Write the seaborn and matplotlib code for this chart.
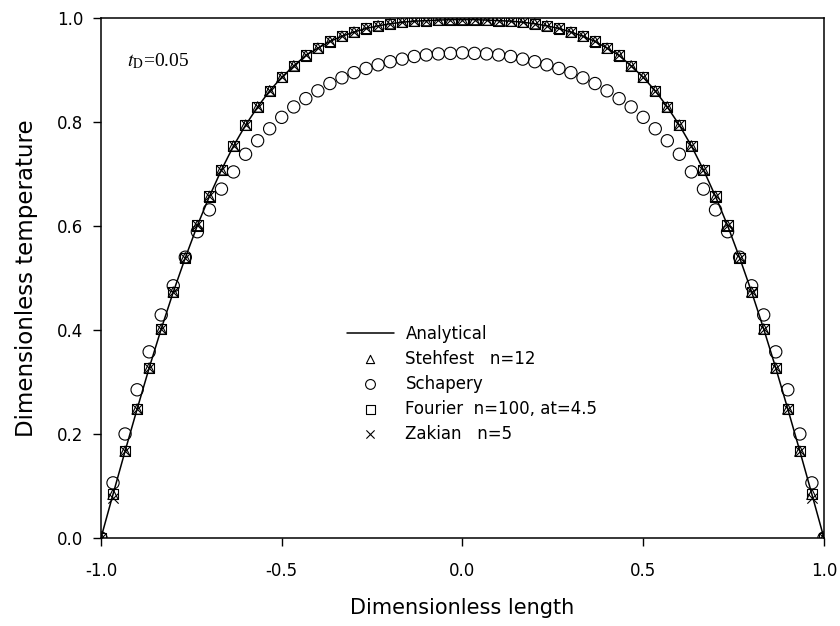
import matplotlib
matplotlib.use('Agg')
import matplotlib.pyplot as plt
import numpy as np
import seaborn as sns

# Dimensionless length grid (61 nodes, step 1/30)
x_pos = np.linspace(-1.0, 1.0, 61)

# Values (t_D = 0.05)
analytical = [0.0, 0.084, 0.167, 0.248, 0.327, 0.402, 0.473, 0.539, 0.601, 0.657,
              0.708, 0.754, 0.794, 0.829, 0.860, 0.886, 0.908, 0.928, 0.942, 0.955,
              0.965, 0.973, 0.980, 0.985, 0.989, 0.992, 0.994, 0.995, 0.996, 0.997,
              0.997,
              0.997, 0.996, 0.995, 0.994, 0.992, 0.989, 0.985, 0.980, 0.973, 0.965,
              0.955, 0.942, 0.928, 0.908, 0.886, 0.860, 0.829, 0.794, 0.754, 0.708,
              0.657, 0.601, 0.539, 0.473, 0.402, 0.327, 0.248, 0.167, 0.084, 0.0]
stehfest = [0.0, 0.084, 0.167, 0.248, 0.327, 0.402, 0.473, 0.539, 0.601, 0.657,
            0.708, 0.754, 0.794, 0.829, 0.860, 0.886, 0.908, 0.928, 0.942, 0.955,
            0.965, 0.973, 0.980, 0.985, 0.989, 0.992, 0.994, 0.995, 0.996, 0.997,
            0.997,
            0.997, 0.996, 0.995, 0.994, 0.992, 0.989, 0.985, 0.980, 0.973, 0.965,
            0.955, 0.942, 0.928, 0.908, 0.886, 0.860, 0.829, 0.794, 0.754, 0.708,
            0.657, 0.601, 0.539, 0.473, 0.402, 0.327, 0.248, 0.167, 0.084, 0.0]
schapery = [0.0, 0.106, 0.200, 0.285, 0.358, 0.429, 0.485, 0.540, 0.589, 0.631,
            0.671, 0.704, 0.738, 0.764, 0.787, 0.809, 0.829, 0.845, 0.860, 0.874,
            0.885, 0.895, 0.903, 0.910, 0.916, 0.921, 0.926, 0.929, 0.931, 0.932,
            0.933,
            0.932, 0.931, 0.929, 0.926, 0.921, 0.916, 0.910, 0.903, 0.895, 0.885,
            0.874, 0.860, 0.845, 0.829, 0.809, 0.787, 0.764, 0.738, 0.704, 0.671,
            0.631, 0.589, 0.540, 0.485, 0.429, 0.358, 0.285, 0.200, 0.106, 0.0]
fourier = [0.0, 0.084, 0.167, 0.248, 0.327, 0.402, 0.473, 0.539, 0.601, 0.657,
           0.708, 0.754, 0.794, 0.829, 0.860, 0.886, 0.908, 0.928, 0.942, 0.955,
           0.965, 0.973, 0.980, 0.985, 0.989, 0.992, 0.994, 0.995, 0.996, 0.997,
           0.997,
           0.997, 0.996, 0.995, 0.994, 0.992, 0.989, 0.985, 0.980, 0.973, 0.965,
           0.955, 0.942, 0.928, 0.908, 0.886, 0.860, 0.829, 0.794, 0.754, 0.708,
           0.657, 0.601, 0.539, 0.473, 0.402, 0.327, 0.248, 0.167, 0.084, 0.0]
zakian = [0.0, 0.076, 0.167, 0.248, 0.327, 0.402, 0.473, 0.539, 0.601, 0.657,
          0.708, 0.754, 0.794, 0.829, 0.860, 0.886, 0.908, 0.928, 0.942, 0.955,
          0.965, 0.973, 0.980, 0.985, 0.989, 0.992, 0.994, 0.995, 0.996, 0.997,
          0.997,
          0.997, 0.996, 0.995, 0.994, 0.992, 0.989, 0.985, 0.980, 0.973, 0.965,
          0.955, 0.942, 0.928, 0.908, 0.886, 0.860, 0.829, 0.794, 0.754, 0.708,
          0.657, 0.601, 0.539, 0.473, 0.402, 0.327, 0.248, 0.167, 0.076, 0.0]

x_ticks = [-1.0, -0.5, 0.0, 0.5, 1.0]
y_ticks = [0.0, 0.2, 0.4, 0.6, 0.8, 1.0]

sns.set_style('ticks')
plt.rcParams['font.family'] = ['DejaVu Sans']
plt.rcParams['mathtext.fontset'] = 'stix'
plt.rcParams['text.color'] = 'black'
plt.rcParams['axes.labelcolor'] = 'black'

fig = plt.figure(figsize=(8.4, 6.26), dpi=100)
ax = fig.add_axes([0.1202, 0.1406, 0.8607, 0.8306])

sns.scatterplot(x=x_pos, y=schapery, marker='o', s=78, facecolor='none',
                edgecolor='black', linewidth=0.8, ax=ax, label='Schapery', zorder=3)
sns.scatterplot(x=x_pos, y=stehfest, marker='^', s=55, facecolor='none',
                edgecolor='black', linewidth=0.8, ax=ax, label='Stehfest   n=12', zorder=3)
sns.scatterplot(x=x_pos, y=fourier, marker='s', s=55, facecolor='none',
                edgecolor='black', linewidth=0.8, ax=ax, label='Fourier  n=100, at=4.5', zorder=3)
sns.scatterplot(x=x_pos, y=zakian, marker='x', s=55, color='black',
                linewidth=0.8, ax=ax, label='Zakian   n=5', zorder=3)
sns.lineplot(x=x_pos, y=analytical, color='black', linewidth=1.1, ax=ax,
             label='Analytical', zorder=4)

ax.set_xlim(-1.0, 1.0)
ax.set_ylim(0.0, 1.0)
ax.set_xticks(x_ticks)
ax.set_yticks(y_ticks)
ax.set_xticklabels(['%.1f' % v for v in x_ticks])
ax.set_yticklabels(['%.1f' % v for v in y_ticks])
ax.tick_params(direction='out', length=5.5, width=1.0, labelsize=12, colors='black')
ax.tick_params(axis='x', pad=12)
ax.tick_params(axis='y', pad=7)
for sp in ax.spines.values():
    sp.set_visible(True)
    sp.set_linewidth(1.1)
    sp.set_color('black')

ax.set_xlabel('Dimensionless length', fontsize=15, labelpad=13, color='black')
ax.set_ylabel('Dimensionless temperature', fontsize=16.5, labelpad=14, color='black')

ax.text(0.036, 0.918, r'$t_{\mathrm{D}}$=0.05', transform=ax.transAxes,
        fontsize=14, family='Liberation Serif', va='center', ha='left', color='black')

handles, labels = ax.get_legend_handles_labels()
order = ['Analytical', 'Stehfest   n=12', 'Schapery', 'Fourier  n=100, at=4.5', 'Zakian   n=5']
hmap = dict(zip(labels, handles))
ax.legend([hmap[k] for k in order], order, loc='upper left',
          bbox_to_anchor=(0.329, 0.426), frameon=False, fontsize=12,
          markerscale=0.8, handlelength=2.8, handletextpad=0.7,
          labelspacing=0.42, borderpad=0, labelcolor='black')

fig.savefig('out.png', dpi=100)
